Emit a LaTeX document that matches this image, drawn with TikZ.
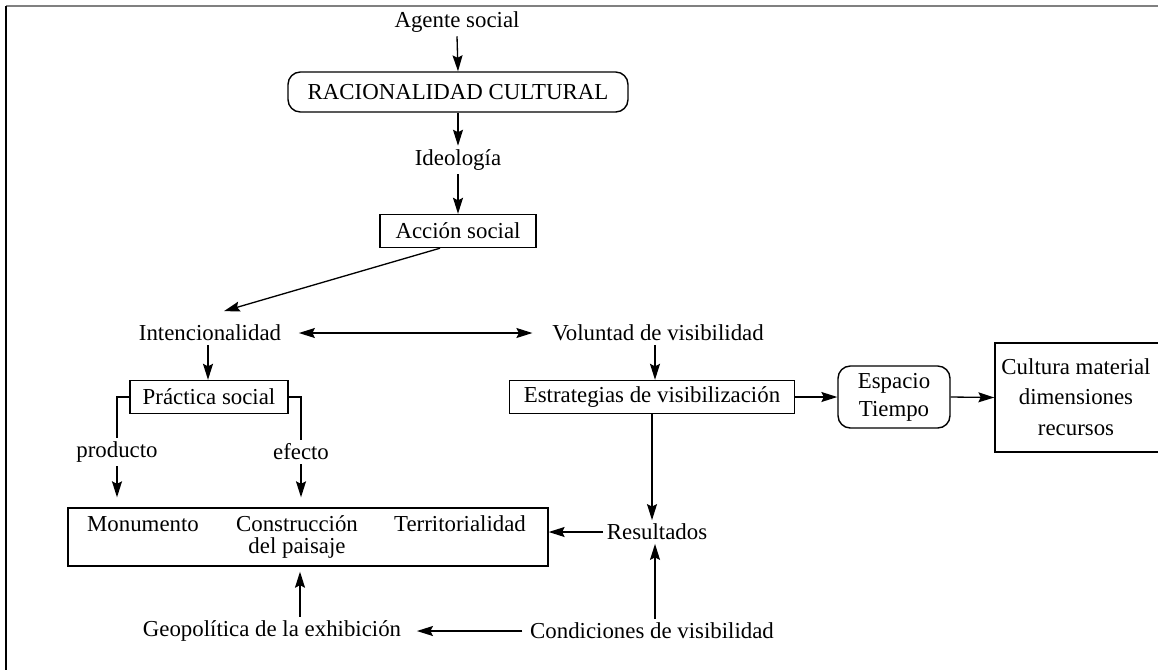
\documentclass[tikz,border=0pt]{standalone}
\usepackage{fontspec}
\setmainfont{Liberation Serif}
\usetikzlibrary{arrows.meta,calc}
\tikzset{
  lbl/.style={inner sep=2pt, font=\fontsize{13}{15}\selectfont},
  sqbox/.style={lbl, draw, line width=0.8pt, inner sep=0pt},
  rbox/.style={sqbox, rounded corners=7pt},
  tip/.tip={Stealth[length=0.32cm,width=0.2cm,inset=0.05cm]},
  arr/.style={line width=0.75pt, -tip},
  darr/.style={line width=0.75pt, tip-tip},
  ln/.style={line width=0.75pt},
}
\begin{document}
\begin{tikzpicture}[x=0.02cm,y=-0.02cm]
\useasboundingbox (0,0) rectangle (1158,670);
\draw[gray, line width=1.6pt] (6,6) -- (1158,6);
\draw[line width=1.2pt] (6,6) -- (6,670);

\node[lbl] (agente) at (457,22) {Agente social};
\node[rbox, minimum width=6.8cm, minimum height=0.8cm] (racional) at (458,92) {RACIONALIDAD CULTURAL};
\node[lbl] (ideologia) at (458,160) {Ideología};
\node[sqbox, minimum width=3.12cm, minimum height=0.66cm] (accion) at (458,231) {Acción social};
\node[lbl] (intenc) at (210,333) {Intencionalidad};
\node[lbl] (voluntad) at (658,333) {Voluntad de visibilidad};
\node[sqbox, minimum width=3.16cm, minimum height=0.66cm] (practica) at (209,397) {Práctica social};
\node[lbl] (producto) at (117,452) {producto};
\node[lbl] (efecto) at (301,452) {efecto};
\node[sqbox, minimum width=9.6cm, minimum height=1.16cm] (big) at (308,537) {};
\node[lbl, anchor=base] (monumento) at (143,531) {Monumento};
\node[lbl, anchor=base] (construccion) at (297,531) {Construcción};
\node[lbl, anchor=base] (paisaje) at (297,553) {del paisaje};
\node[lbl, anchor=base] (territ) at (460,531) {Territorialidad};
\node[lbl] (resultados) at (657,532) {Resultados};
\node[lbl] (condiciones) at (652,631) {Condiciones de visibilidad};
\node[lbl] (geopolitica) at (272,631) {Geopolítica de la exhibición};
\node[sqbox, minimum width=5.7cm, minimum height=0.66cm] (estrategias) at (652,397) {Estrategias de visibilización};
\node[rbox, align=center, minimum width=2.24cm, minimum height=1.24cm, font=\fontsize{13}{16}\selectfont] (espacio) at (894,397) {Espacio\\Tiempo};
\node[sqbox, minimum width=3.6cm, minimum height=2.18cm] (cultbox) at (1085,397.5) {};
\node[lbl, align=center, font=\fontsize{13}{17.5}\selectfont] (cultura) at (1076,397) {Cultura material\\dimensiones\\recursos};

\coordinate (acs) at ($(accion.south)+(-18,0)$);
\coordinate (inn) at ($(intenc.north)+(14,-10)$);
\coordinate (ine) at ($(intenc.east)+(14,0)$);
\coordinate (vow) at ($(voluntad.west)+(-16,0)$);
\coordinate (ins) at ($(intenc.south)+(-2,0)$);
\coordinate (vos) at ($(voluntad.south)+(-3,0)$);
\coordinate (ess) at (estrategias.south);
\coordinate (cow) at ($(condiciones.west)+(-4,0)$);
\coordinate (gee) at ($(geopolitica.east)+(12,0)$);
\coordinate (gen) at ($(geopolitica.north)+(28,0)$);
\coordinate (con) at ($(condiciones.north)+(3,0)$);

\draw[arr] (agente.south) -- (racional.north);
\draw[arr] (racional.south) -- (ideologia.north);
\draw[arr] (ideologia.south) -- (accion.north);
\draw[arr] (acs) -- (inn);
\draw[darr] (ine) -- (vow);
\draw[arr] (ins) -- (ins |- practica.north);
\draw[ln] (practica.west) -| (producto.north);
\draw[ln] (practica.east) -| (efecto.north);
\draw[arr, shorten >=0.2cm] (producto.south) -- (producto.south |- big.north);
\draw[arr, shorten >=0.2cm] (efecto.south) -- (efecto.south |- big.north);
\draw[arr] (vos) -- (vos |- estrategias.north);
\draw[arr] (ess) -- (ess |- resultados.north);
\draw[arr] (estrategias.east) -- (espacio.west);
\draw[arr] (espacio.east) -- (cultbox.west);
\draw[arr] (resultados.west) -- (resultados.west -| big.east);
\draw[arr] (cow) -- (gee);
\draw[arr, shorten >=0.1cm] (gen) -- (gen |- big.south);
\draw[arr] (con) -- (con |- resultados.south);
\end{tikzpicture}
\end{document}
